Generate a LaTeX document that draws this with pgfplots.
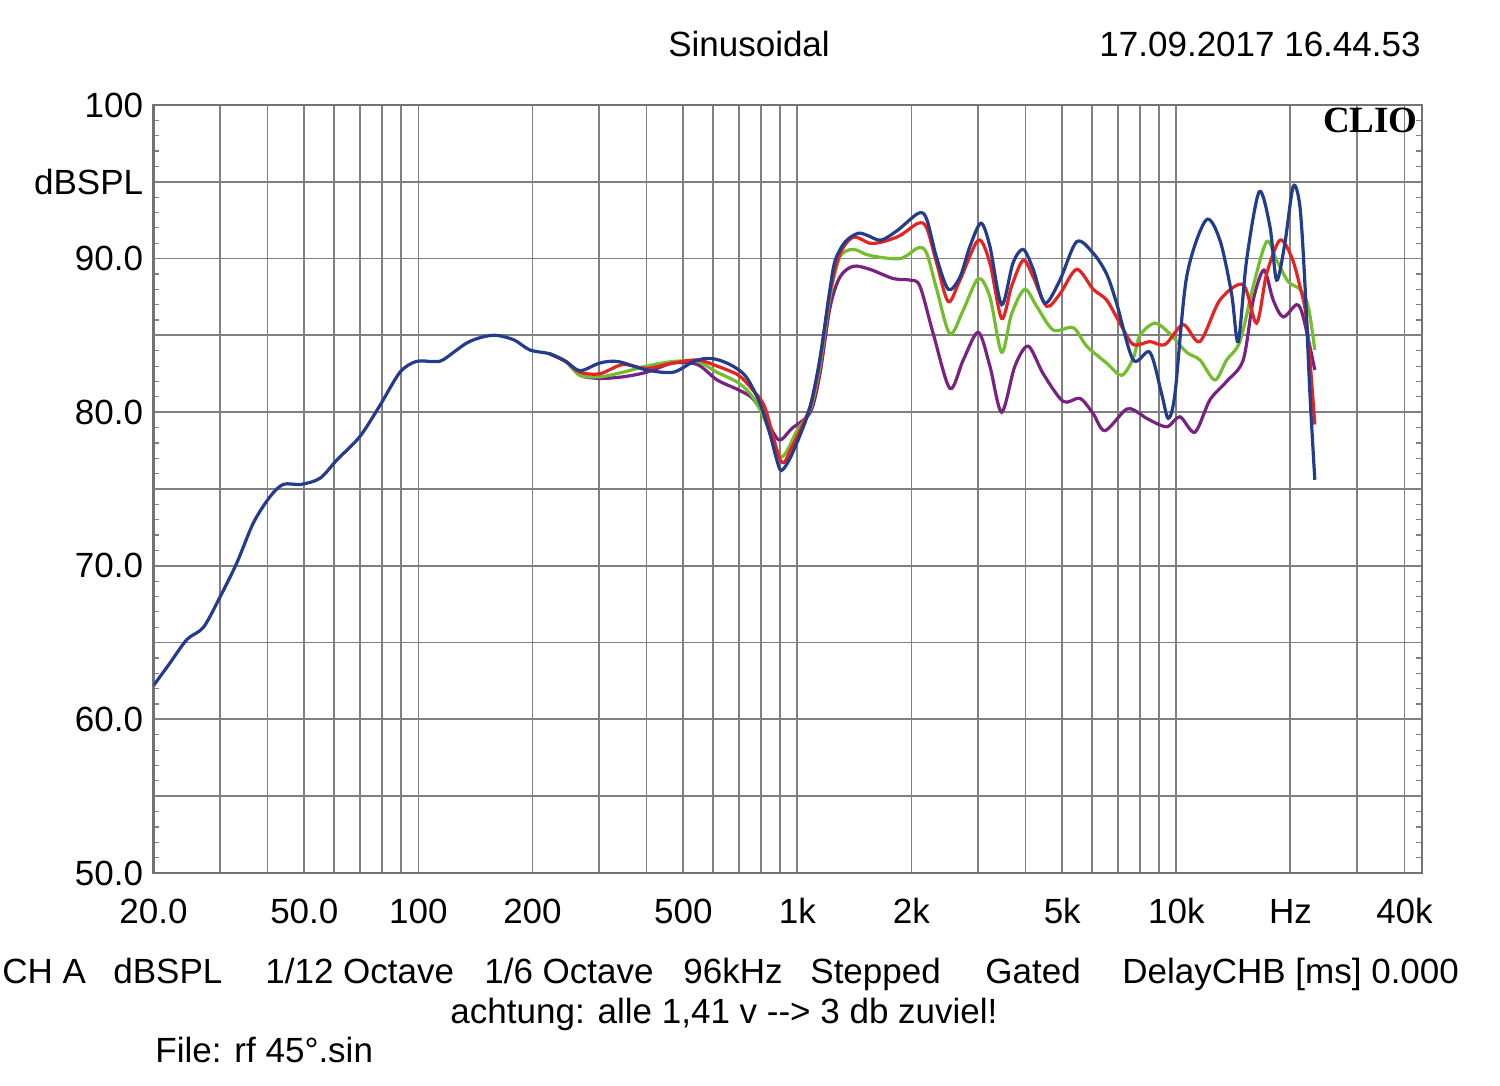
\documentclass[border=0pt]{standalone}
\usepackage{fontspec}
\setmainfont{Liberation Sans}
\newfontfamily\cliofont{Liberation Serif}
\usepackage{pgfplots}
\usepackage{pgfplotstable}
\pgfplotsset{compat=1.18}
\definecolor{cblue}{RGB}{35,60,140}
\definecolor{cred}{RGB}{230,35,35}
\definecolor{cgreen}{RGB}{115,190,45}
\definecolor{cpurple}{RGB}{120,35,130}
\definecolor{gridc}{RGB}{128,128,128}
\definecolor{framec}{RGB}{115,115,115}

\pgfplotstableread{
f db
20 62.2
22 63.6
24.5 65.2
27.1 66.0
30 68.0
33.2 70.2
36.7 72.8
40.6 74.5
44 75.3
49 75.3
55 75.7
61 76.9
70 78.4
79 80.4
89.4 82.6
98.6 83.3
109 83.3
116 83.4
134 84.5
148 84.9
161 85.0
179 84.7
197 84.05
222 83.8
245 83.3
267 82.7
301 83.2
336 83.3
400 82.75
470 82.6
532 83.3
577 83.5
620 83.4
676 83.0
733 82.3
796 80.6
846 78.6
880 77.0
906 76.2
952 76.9
1020 78.6
1082 80.4
1147 83.5
1219 88.0
1259 89.9
1338 91.1
1446 91.65
1534 91.5
1663 91.2
1840 91.85
2086 92.95
2192 92.6
2328 90.1
2502 88.0
2686 88.8
2854 90.8
3052 92.3
3222 90.8
3460 87.0
3706 89.7
3945 90.6
4192 89.3
4500 87.1
4930 88.6
5458 91.1
6036 90.35
6547 89.0
6956 87.1
7697 83.4
8518 83.9
9146 81.2
9520 79.6
9919 81.2
10646 88.8
11968 92.5
13032 91.2
13992 87.7
14566 84.6
15328 89.9
16550 94.35
17660 92.1
18394 88.6
19344 91.0
20344 94.7
21190 93.4
21840 88.4
22520 81.2
23200 75.6
}\blue

\pgfplotstableread{
f db
222 83.8
245 83.3
267 82.6
301 82.5
346 83.1
400 82.85
470 83.2
545 83.4
614 83.0
700 82.4
762 81.45
821 80.3
906 76.8
968 77.75
1082 80.4
1147 83.3
1219 87.8
1295 90.3
1404 91.4
1554 91.0
1685 91.1
1866 91.5
2084 92.3
2194 92.0
2332 89.7
2502 87.2
2686 88.6
3002 91.2
3222 89.7
3460 86.1
3676 88.2
3945 89.9
4192 88.8
4546 86.9
4930 87.7
5458 89.3
6036 88.0
6547 87.3
7098 85.8
7697 84.4
8518 84.6
9332 84.4
10430 85.7
11541 84.6
13032 87.3
15016 88.3
16288 85.8
17310 89.0
18766 91.2
20148 90.1
21190 88.2
22060 86.0
23200 79.2
}\red

\pgfplotstableread{
f db
222 83.8
245 83.3
267 82.4
301 82.3
346 82.6
400 83.0
470 83.3
545 83.3
614 82.6
700 81.9
762 81.0
821 79.5
906 77.1
998 78.8
1082 80.2
1147 83.0
1219 87.5
1295 90.1
1404 90.6
1554 90.2
1866 90.0
2084 90.7
2194 90.35
2332 88.0
2527 85.1
2740 86.65
3002 88.7
3222 87.5
3460 83.9
3676 86.4
3980 88.0
4279 86.9
4732 85.35
5347 85.5
5800 84.3
6547 83.2
7172 82.4
7697 83.5
8016 85.0
8781 85.8
9620 85.1
10646 83.9
11541 83.4
12642 82.1
13573 83.4
14718 84.6
15956 88.2
17310 91.1
18394 89.9
19734 88.5
21190 88.0
22280 86.9
23200 84.05
}\green

\pgfplotstableread{
f db
222 83.8
245 83.3
267 82.4
301 82.2
346 82.3
400 82.6
470 83.2
545 83.1
614 82.1
700 81.45
762 80.9
821 79.7
893 78.2
968 78.95
1082 80.0
1147 82.5
1219 86.8
1295 88.8
1404 89.5
1554 89.3
1791 88.7
1982 88.6
2106 88.2
2284 85.1
2527 81.55
2740 83.4
3002 85.2
3222 83.0
3460 80.0
3751 83.0
4066 84.3
4454 82.5
5030 80.7
5568 80.9
6036 79.9
6482 78.8
7394 80.2
8016 79.9
8348 79.6
9428 79.05
10220 79.7
11196 78.7
12264 80.8
13573 82.0
15016 83.4
15956 87.3
17028 89.25
18018 87.3
19146 86.2
20770 87.0
21620 86.2
23200 82.75
}\purple

\begin{document}
\begin{tikzpicture}
\path[use as bounding box] (0,0) rectangle (750pt,543pt);
\begin{axis}[
  at={(76.75pt,106.5pt)}, anchor=south west,
  scale only axis, width=634.25pt, height=384pt,
  xmode=log, log basis x=10,
  xmin=20, xmax=44500, ymin=50, ymax=100,
  xtick={20,50,100,200,500,1000,2000,5000,10000,20000,40000},
  xticklabels={20.0,50.0,100,200,500,1k,2k,5k,10k,Hz,40k},
  minor xtick={30,40,60,70,80,90,300,400,600,700,800,900,3000,4000,6000,7000,8000,9000,30000},
  ytick={50,60,70,80,90,95,100},
  yticklabels={50.0,60.0,70.0,80.0,90.0,dBSPL,100},
  minor ytick={51,52,...,99},
  extra y ticks={55,65,75,85},
  extra y tick labels={},
  extra y tick style={grid=major},
  xmajorgrids, xminorgrids, ymajorgrids,
  major grid style={draw=gridc, line width=0.9pt},
  minor grid style={draw=gridc, line width=0.9pt},
  axis line style={draw=framec, line width=1.1pt},
  major tick length=0pt, minor tick length=3pt,
  minor tick style={draw=gridc, line width=0.6pt},
  tick pos=both, tick align=inside,
  /pgf/number format/assume math mode=true,
  tick label style={font=\fontsize{17.5}{21}\selectfont},
  xticklabel style={anchor=base, inner sep=0pt, yshift=-25.5pt},
  yticklabel style={anchor=east, inner sep=0pt, xshift=-5pt},
  every axis plot/.append style={line width=1.6pt, smooth, no marks},
]
\addplot[cpurple] table[x=f, y=db] {\purple};
\addplot[cgreen] table[x=f, y=db] {\green};
\addplot[cred] table[x=f, y=db] {\red};
\addplot[cblue] table[x=f, y=db] {\blue};
\end{axis}
\node[anchor=north east, inner sep=0pt] at (709pt,489pt) {\cliofont\bfseries\fontsize{18.5}{20}\selectfont CLIO};
\begin{scope}[every node/.style={inner sep=0pt, font=\fontsize{17.5}{21}\selectfont}]
\node[anchor=base] at (374.5pt,514.5pt) {Sinusoidal};
\node[anchor=base east] at (710.5pt,514.5pt) {17.09.2017 16.44.53};
\node[anchor=base west] at (1pt,51pt) {CH A};
\node[anchor=base west] at (56.5pt,51pt) {dBSPL};
\node[anchor=base west] at (132.5pt,51pt) {1/12 Octave};
\node[anchor=base west] at (242pt,51pt) {1/6 Octave};
\node[anchor=base west] at (341.5pt,51pt) {96kHz};
\node[anchor=base west] at (405pt,51pt) {Stepped};
\node[anchor=base west] at (492.5pt,51pt) {Gated};
\node[anchor=base west] at (561pt,51pt) {DelayCHB [ms] 0.000};
\node[anchor=base] at (362pt,31pt) {achtung: alle 1,41 v -\kern0pt-\kern0pt> 3 db zuviel!};
\node[anchor=base west] at (77.5pt,11.5pt) {File: rf 45°.sin};
\end{scope}
\end{tikzpicture}
\end{document}
